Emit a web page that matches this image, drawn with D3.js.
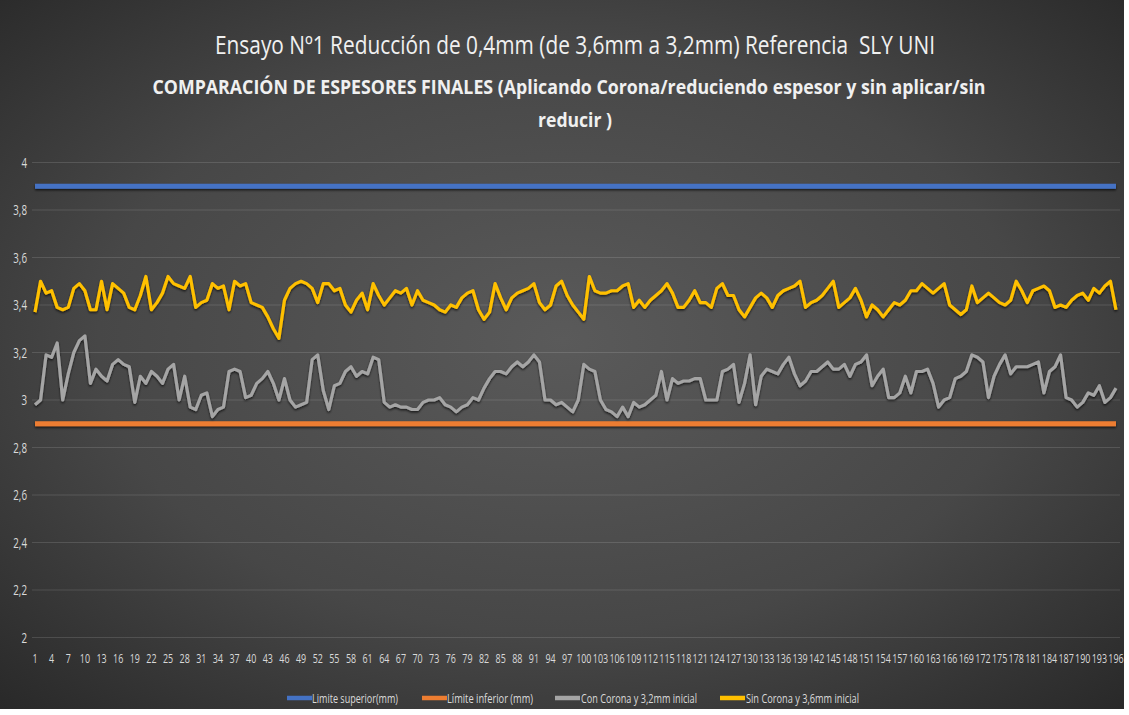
<!DOCTYPE html>
<html>
<head>
<meta charset="utf-8">
<script src="https://cdn.jsdelivr.net/npm/d3@7"></script>
<style>
  html, body { margin: 0; padding: 0; background: #ffffff; }
  svg { display: block; }
</style>
</head>
<body>
<div id="chart"></div>
<script>
// Espesores finales por muestra (mm)
const muestras = d3.range(1, 197);

const conCorona = [
  2.98, 3.00, 3.19, 3.18, 3.24, 3.00, 3.11, 3.20, 3.25, 3.27,
  3.07, 3.13, 3.10, 3.08, 3.15, 3.17, 3.15, 3.14, 2.99, 3.10,
  3.07, 3.12, 3.10, 3.07, 3.13, 3.15, 3.00, 3.10, 2.97, 2.96,
  3.02, 3.03, 2.93, 2.96, 2.97, 3.12, 3.13, 3.12, 3.01, 3.02,
  3.07, 3.09, 3.12, 3.07, 3.00, 3.09, 3.00, 2.97, 2.98, 2.99,
  3.17, 3.19, 3.04, 2.96, 3.06, 3.07, 3.12, 3.14, 3.10, 3.12,
  3.11, 3.18, 3.17, 2.99, 2.97, 2.98, 2.97, 2.97, 2.96, 2.96,
  2.99, 3.00, 3.00, 3.01, 2.98, 2.97, 2.95, 2.97, 2.98, 3.01,
  3.00, 3.05, 3.09, 3.12, 3.12, 3.11, 3.14, 3.16, 3.14, 3.16,
  3.19, 3.16, 3.00, 3.00, 2.98, 2.99, 2.97, 2.95, 3.00, 3.15,
  3.13, 3.12, 3.00, 2.96, 2.95, 2.93, 2.97, 2.93, 2.99, 2.97,
  2.98, 3.00, 3.02, 3.12, 3.00, 3.09, 3.07, 3.08, 3.08, 3.09,
  3.09, 3.00, 3.00, 3.00, 3.12, 3.13, 3.15, 2.99, 3.07, 3.19,
  2.98, 3.10, 3.13, 3.12, 3.11, 3.15, 3.18, 3.11, 3.06, 3.08,
  3.12, 3.12, 3.14, 3.16, 3.13, 3.13, 3.15, 3.10, 3.15, 3.16,
  3.19, 3.06, 3.10, 3.13, 3.01, 3.01, 3.03, 3.10, 3.03, 3.12,
  3.12, 3.13, 3.07, 2.97, 3.00, 3.01, 3.09, 3.10, 3.12, 3.19,
  3.18, 3.16, 3.01, 3.10, 3.15, 3.19, 3.11, 3.14, 3.14, 3.14,
  3.15, 3.16, 3.03, 3.12, 3.14, 3.19, 3.01, 3.00, 2.97, 2.99,
  3.03, 3.02, 3.06, 2.99, 3.01, 3.05
];

const sinCorona = [
  3.37, 3.50, 3.45, 3.46, 3.39, 3.38, 3.39, 3.47, 3.49, 3.46,
  3.38, 3.38, 3.50, 3.38, 3.49, 3.47, 3.45, 3.39, 3.38, 3.44,
  3.52, 3.38, 3.41, 3.45, 3.52, 3.49, 3.48, 3.47, 3.52, 3.39,
  3.41, 3.42, 3.49, 3.47, 3.48, 3.38, 3.50, 3.48, 3.49, 3.41,
  3.40, 3.39, 3.35, 3.30, 3.26, 3.42, 3.47, 3.49, 3.50, 3.49,
  3.47, 3.41, 3.49, 3.49, 3.46, 3.47, 3.40, 3.37, 3.42, 3.45,
  3.38, 3.49, 3.44, 3.40, 3.43, 3.46, 3.45, 3.47, 3.40, 3.46,
  3.42, 3.41, 3.40, 3.38, 3.37, 3.40, 3.39, 3.43, 3.45, 3.46,
  3.38, 3.34, 3.37, 3.49, 3.43, 3.38, 3.43, 3.45, 3.46, 3.47,
  3.49, 3.41, 3.38, 3.40, 3.48, 3.50, 3.44, 3.40, 3.37, 3.34,
  3.52, 3.46, 3.45, 3.45, 3.46, 3.46, 3.48, 3.49, 3.39, 3.42,
  3.39, 3.42, 3.44, 3.46, 3.49, 3.45, 3.39, 3.39, 3.42, 3.46,
  3.41, 3.41, 3.39, 3.47, 3.49, 3.44, 3.44, 3.38, 3.35, 3.39,
  3.43, 3.45, 3.43, 3.39, 3.44, 3.46, 3.47, 3.48, 3.50, 3.39,
  3.41, 3.42, 3.44, 3.47, 3.50, 3.39, 3.41, 3.43, 3.47, 3.42,
  3.35, 3.40, 3.38, 3.35, 3.38, 3.41, 3.40, 3.42, 3.46, 3.46,
  3.49, 3.47, 3.45, 3.47, 3.49, 3.40, 3.38, 3.36, 3.38, 3.48,
  3.41, 3.43, 3.45, 3.43, 3.41, 3.40, 3.42, 3.50, 3.46, 3.41,
  3.46, 3.47, 3.48, 3.46, 3.39, 3.40, 3.39, 3.42, 3.44, 3.45,
  3.42, 3.47, 3.45, 3.48, 3.50, 3.38
];

// Límites de especificación (mm)
const limiteSuperior = 3.9;
const limiteInferior = 2.9;

const yTicks = [2, 2.2, 2.4, 2.6, 2.8, 3, 3.2, 3.4, 3.6, 3.8, 4];
const xTickLabels = muestras.filter((d, i) => i % 3 === 0);

const titulo1 = "Ensayo Nº1 Reducción de 0,4mm (de 3,6mm a 3,2mm) Referencia \u00a0SLY UNI";
const titulo2 = "COMPARACIÓN DE ESPESORES FINALES (Aplicando Corona/reduciendo espesor y sin aplicar/sin";
const titulo3 = "reducir )";

const series = [
  { name: "Limite superior(mm)", color: "#4472C4" },
  { name: "Límite inferior (mm)", color: "#ED7D31" },
  { name: "Con Corona y 3,2mm inicial", color: "#A5A5A5" },
  { name: "Sin Corona y 3,6mm inicial", color: "#FFC000" }
];

// ---- layout ----
const W = 1129, H = 715;
const chartW = 1124, chartH = 709;
const font = "'Open Sans', 'Noto Sans', sans-serif";

const svg = d3.select("#chart").append("svg")
  .attr("width", W).attr("height", H);

const defs = svg.append("defs");
const grad = defs.append("radialGradient")
  .attr("id", "bg").attr("cx", "50%").attr("cy", "48%").attr("r", "75%");
grad.append("stop").attr("offset", "0%").attr("stop-color", "#5a5a5a");
grad.append("stop").attr("offset", "55%").attr("stop-color", "#474747");
grad.append("stop").attr("offset", "100%").attr("stop-color", "#262626");

// soft drop shadow under the series lines (user-space region so flat lines keep it)
const shadow = defs.append("filter").attr("id", "shadow")
  .attr("filterUnits", "userSpaceOnUse")
  .attr("x", 0).attr("y", 0).attr("width", W).attr("height", H);
shadow.append("feDropShadow")
  .attr("dx", 0).attr("dy", 1.5).attr("stdDeviation", 1.2)
  .attr("flood-color", "#000").attr("flood-opacity", 0.7);

svg.append("rect").attr("width", chartW).attr("height", chartH).attr("fill", "url(#bg)");

const x = d3.scalePoint().domain(muestras).range([35, 1116]);
const y = d3.scaleLinear().domain([2, 4]).range([637.5, 162.5]);

// gridlines
svg.append("g").selectAll("line").data(yTicks).join("line")
  .attr("x1", 32).attr("x2", 1120)
  .attr("y1", d => y(d)).attr("y2", d => y(d))
  .attr("stroke", "#ffffff").attr("stroke-opacity", 0.13).attr("stroke-width", 1);

// y tick labels
const fmt = d => String(d).replace(".", ",");
svg.append("g").selectAll("text").data(yTicks).join("text")
  .attr("transform", d => `translate(27,${y(d) + 5}) scale(0.7,1)`)
  .attr("text-anchor", "end")
  .attr("font-family", font).attr("font-size", 14)
  .attr("fill", "#d9d9d9")
  .text(fmt);

// x tick labels
svg.append("g").selectAll("text").data(xTickLabels).join("text")
  .attr("transform", d => `translate(${x(d)},${663}) scale(0.66,1)`)
  .attr("text-anchor", "middle")
  .attr("font-family", font).attr("font-size", 13.5)
  .attr("fill", "#d9d9d9")
  .text(d => d);

// limit lines
const xFirst = muestras[0], xLast = muestras[muestras.length - 1];
[[limiteSuperior, series[0].color], [limiteInferior, series[1].color]].forEach(([v, c]) => {
  svg.append("line")
    .attr("x1", x(xFirst)).attr("x2", x(xLast))
    .attr("y1", y(v)).attr("y2", y(v))
    .attr("stroke", c).attr("stroke-width", 5)
    .attr("filter", "url(#shadow)");
});

// data lines
const line = d3.line().x((d, i) => x(muestras[i])).y(d => y(d));
svg.append("path").datum(conCorona)
  .attr("d", line).attr("fill", "none")
  .attr("stroke", series[2].color).attr("stroke-width", 3.2)
  .attr("stroke-linejoin", "round")
  .attr("filter", "url(#shadow)");
svg.append("path").datum(sinCorona)
  .attr("d", line).attr("fill", "none")
  .attr("stroke", series[3].color).attr("stroke-width", 3.2)
  .attr("stroke-linejoin", "round")
  .attr("filter", "url(#shadow)");

// titles
svg.append("text").attr("x", 575).attr("y", 54)
  .attr("text-anchor", "middle").attr("font-family", font)
  .attr("font-size", 25).attr("fill", "#f0f0f0")
  .attr("textLength", 720).attr("lengthAdjust", "spacingAndGlyphs")
  .text(titulo1);
svg.append("text").attr("x", 569).attr("y", 94)
  .attr("text-anchor", "middle").attr("font-family", font)
  .attr("font-size", 20).attr("font-weight", "bold").attr("fill", "#f0f0f0")
  .attr("textLength", 833).attr("lengthAdjust", "spacingAndGlyphs")
  .text(titulo2);
svg.append("text").attr("x", 575).attr("y", 127)
  .attr("text-anchor", "middle").attr("font-family", font)
  .attr("font-size", 20).attr("font-weight", "bold").attr("fill", "#f0f0f0")
  .attr("textLength", 74).attr("lengthAdjust", "spacingAndGlyphs")
  .text(titulo3);

// legend
const legendItems = [
  { s: series[0], x0: 287, tx: 312, w: 86 },
  { s: series[1], x0: 422, tx: 447, w: 86 },
  { s: series[2], x0: 555, tx: 581, w: 116 },
  { s: series[3], x0: 720, tx: 746, w: 113 }
];
const lg = svg.append("g");
legendItems.forEach(it => {
  lg.append("line")
    .attr("x1", it.x0).attr("x2", it.x0 + 25)
    .attr("y1", 698).attr("y2", 698)
    .attr("stroke", it.s.color).attr("stroke-width", 4.5);
  lg.append("text")
    .attr("x", it.tx).attr("y", 702.5)
    .attr("font-family", font).attr("font-size", 13)
    .attr("fill", "#d9d9d9")
    .attr("textLength", it.w).attr("lengthAdjust", "spacingAndGlyphs")
    .text(it.s.name);
});
</script>
</body>
</html>
